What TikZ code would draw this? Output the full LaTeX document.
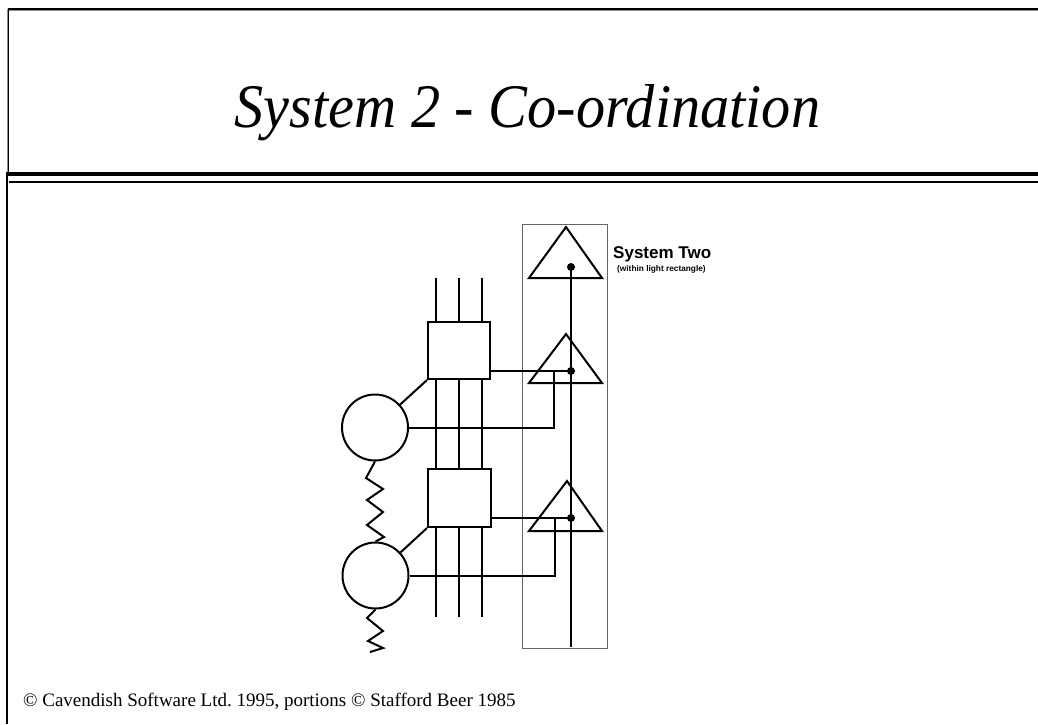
\documentclass[tikz,border=0pt]{standalone}
\usepackage{fontspec}
\setmainfont{Liberation Serif}
\newfontfamily\hv{Liberation Sans}
\usetikzlibrary{calc}
\frenchspacing
\tikzset{
  wire/.style={line width=2pt, black},
  unitbox/.style={draw, line width=2pt, fill=white, rectangle, inner sep=0pt},
  opcircle/.style={draw, line width=2pt, circle, inner sep=0pt, minimum size=66pt},
  tri/.style={line width=2pt, line join=miter},
  lightbox/.style={draw=black!60, line width=1pt},
  dotnode/.style={circle, fill=black, inner sep=0pt, minimum size=8pt}
}
\begin{document}
\begin{tikzpicture}[x=1pt,y=-1pt]
\useasboundingbox (0,0) rectangle (1038,724);
% frame
\fill[white] (0,0) rectangle (1038,724);
\draw[black!45, line width=1pt] (7,10.5) -- (1038,10.5);
\draw[black, line width=1.6pt] (8,9) -- (1038,9);
\draw[black!45, line width=1pt] (7,9) -- (7,172);
\draw[black, line width=1.2pt] (8.5,9) -- (8.5,172);
\draw[black, line width=1.2pt] (7,172) -- (7,724);
\fill[black] (7,172) rectangle (1038,176);
\draw[black, line width=1.6pt] (9,182) -- (1038,182);
% title
\node[anchor=base, inner sep=0pt] (title) at (527.5,127)
  {\scalebox{0.94}[1]{\fontsize{62}{62}\selectfont\itshape System 2 - Co-ordination}};
% footer
\node[anchor=base west, inner sep=0pt] (footer) at (23,706)
  {\fontsize{19}{19}\selectfont \char"00A9\ Cavendish Software Ltd. 1995, portions \char"00A9\ Stafford Beer 1985};
% light rectangle
\draw[lightbox] (522.5,224) rectangle (607,648);
% labels
\node[anchor=base west, inner sep=0pt] (s2) at (613,258) {\hv\bfseries\fontsize{17}{17}\selectfont System Two};
\node[anchor=base west, inner sep=0pt] (s2b) at (617,271.5) {\hv\bfseries\fontsize{8.3}{8.3}\selectfont (within light rectangle)};
% vertical channels
\foreach \x/\n in {436/a,459/b,482/c} {
  \coordinate (top\n) at (\x,278);
  \coordinate (bot\n) at (\x,617);
  \draw[wire] (top\n) -- (bot\n);
}
% management boxes
\node[unitbox, minimum width=62pt, minimum height=57pt] (sq1) at (459,350.5) {};
\node[unitbox, minimum width=63pt, minimum height=58pt] (sq2) at (459.5,498) {};
% operations circles
\node[opcircle] (c1) at (375,427.5) {};
\node[opcircle] (c2) at (375.5,575.5) {};
% triangles
\draw[tri] (566,227) -- (602,278) -- (529,278) -- cycle;
\draw[tri] (566,334) -- (602,383) -- (529,383) -- cycle;
\draw[tri] (567,481) -- (602,531) -- (529,531) -- cycle;
% dots
\node[dotnode] (d0) at (571,267) {};
\node[dotnode] (d1) at (571,371) {};
\node[dotnode] (d2) at (571,518) {};
\coordinate (dend) at (571,647);
\draw[wire] (d0.center) -- (dend);
% connections
\coordinate (t1) at (554,371);
\coordinate (t2) at (555,518);
\draw[wire] (sq1.east |- d1) -- (d1.center);
\draw[wire] (sq2.east |- d2) -- (d2.center);
\draw[wire] (c1.east) -| (t1);
\draw[wire] (c2.east) -| (t2);
\draw[wire] (sq1.south west) -- (c1);
\draw[wire] (sq2.south west) -- (c2);
% zigzags
\draw[wire, line join=miter] (c1.south) -- (366,478) -- (383,489) -- (367,500) -- (383,512) -- (367,525) -- (384,537) -- (c2.north);
\coordinate (zend) at (370,652);
\draw[wire, line join=miter] (c2.south) -- (367,618) -- (383,631) -- (368,641) -- (383,648) -- (zend);
\end{tikzpicture}
\end{document}
